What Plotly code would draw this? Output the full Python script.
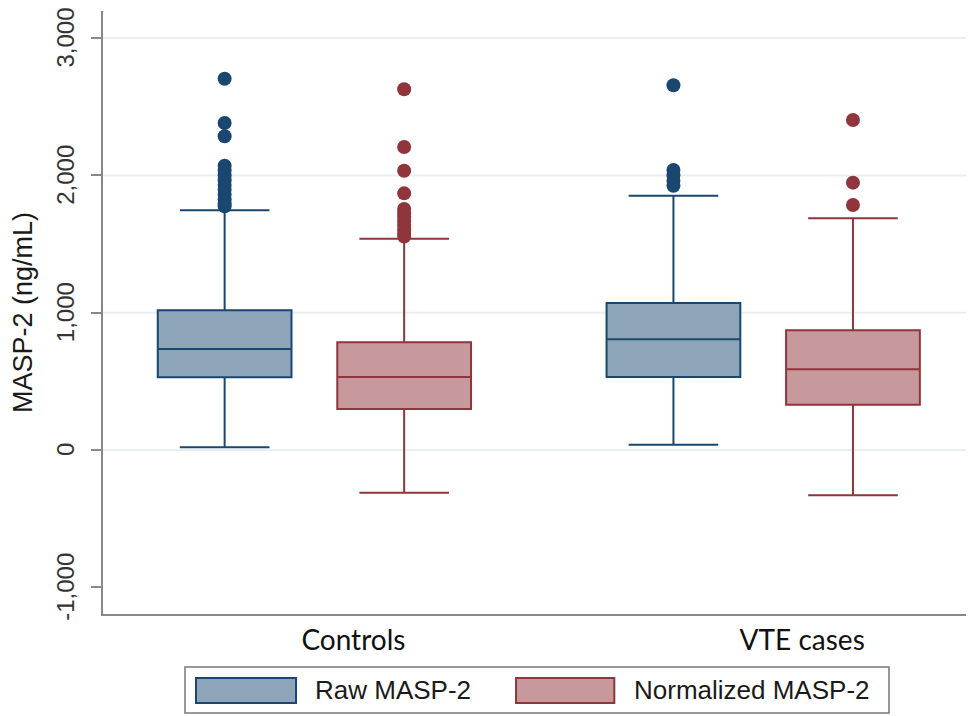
import plotly.graph_objects as go

# ---------------- data ----------------
categories = ["Controls", "VTE cases"]
series_names = ["Raw MASP-2", "Normalized MASP-2"]

raw_lowerfence = [20, 39]
raw_q1 = [530, 532]
raw_median = [735, 806]
raw_q3 = [1017, 1071]
raw_upperfence = [1746, 1852]
raw_outliers_controls = [2704, 2381, 2285, 2070, 2035, 2000, 1965, 1930, 1895, 1860, 1825, 1795, 1775]
raw_outliers_vte = [2656, 2040, 2000, 1960, 1925]

norm_lowerfence = [-311, -330]
norm_q1 = [299, 330]
norm_median = [532, 588]
norm_q3 = [784, 872]
norm_upperfence = [1539, 1688]
norm_outliers_controls = [2627, 2207, 2034, 1869, 1755, 1725, 1695, 1665, 1635, 1605, 1580, 1555]
norm_outliers_vte = [2403, 1947, 1784]

y_tickvals = [-1000, 0, 1000, 2000, 3000]
y_ticktext = ["-1,000", "0", "1,000", "2,000", "3,000"]
gridline_values = [0, 1000, 2000, 3000]

# ---------------- styles ----------------
RAW_LINE = "#1a476f"
RAW_FILL = "#8ea4b8"
NORM_LINE = "#90353b"
NORM_FILL = "#c8999c"
AXIS_COLOR = "#888888"
GRID_COLOR = "#e8eff2"
ARIAL = "Liberation Sans, Arial, sans-serif"
CAT_FONT = "Lato, Open Sans, sans-serif"

fig = go.Figure()

series = [
    (series_names[0], "raw", raw_q1, raw_median, raw_q3, raw_lowerfence, raw_upperfence,
     raw_outliers_controls, raw_outliers_vte, RAW_LINE, RAW_FILL),
    (series_names[1], "norm", norm_q1, norm_median, norm_q3, norm_lowerfence, norm_upperfence,
     norm_outliers_controls, norm_outliers_vte, NORM_LINE, NORM_FILL),
]

for name, grp, q1, med, q3, lf, uf, out_c, out_v, lc, fc in series:
    fig.add_trace(go.Box(
        x=categories, q1=q1, median=med, q3=q3, lowerfence=lf, upperfence=uf,
        name=name, offsetgroup=grp, fillcolor=fc,
        line=dict(color=lc, width=2), whiskerwidth=0.67,
        boxpoints=False, showlegend=False, hoverinfo="skip",
    ))

for name, grp, q1, med, q3, lf, uf, out_c, out_v, lc, fc in series:
    xs = [categories[0]] * len(out_c) + [categories[1]] * len(out_v)
    ys = out_c + out_v
    fig.add_trace(go.Scatter(
        x=xs, y=ys, mode="markers", name=name, offsetgroup=grp,
        marker=dict(color=lc, size=14, line=dict(width=0)),
        showlegend=False, hoverinfo="skip",
    ))

# light gridlines (no line at -1,000)
shapes = []
for v in gridline_values:
    shapes.append(dict(type="line", xref="paper", yref="y", x0=0, x1=1, y0=v, y1=v,
                       line=dict(color=GRID_COLOR, width=2), layer="below"))

# custom legend (paper coordinates)
LEG_Y0, LEG_Y1 = -0.1642, -0.0879
SW_Y0, SW_Y1 = -0.1476, -0.1061
shapes.append(dict(type="rect", xref="paper", yref="paper", x0=0.0933, x1=0.8942,
                   y0=LEG_Y0, y1=LEG_Y1, line=dict(color="#777777", width=1.5),
                   fillcolor="white"))
shapes.append(dict(type="rect", xref="paper", yref="paper", x0=0.1058, x1=0.2196,
                   y0=SW_Y0, y1=SW_Y1, line=dict(color=RAW_LINE, width=2),
                   fillcolor=RAW_FILL))
shapes.append(dict(type="rect", xref="paper", yref="paper", x0=0.4699, x1=0.5817,
                   y0=SW_Y0, y1=SW_Y1, line=dict(color=NORM_LINE, width=2),
                   fillcolor=NORM_FILL))

annotations = [
    dict(text=series_names[0], xref="paper", yref="paper", x=0.2389, y=-0.1268,
         xanchor="left", yanchor="middle", showarrow=False,
         font=dict(family=ARIAL, size=26, color="#1a1a1a")),
    dict(text=series_names[1], xref="paper", yref="paper", x=0.6018, y=-0.1268,
         xanchor="left", yanchor="middle", showarrow=False,
         font=dict(family=ARIAL, size=26, color="#1a1a1a")),
]

fig.update_layout(
    width=974, height=716,
    margin=dict(l=95, r=0, t=3, b=110, pad=0, autoexpand=False),
    paper_bgcolor="white", plot_bgcolor="white",
    boxmode="group", boxgap=0.2, boxgroupgap=0.255,
    scattermode="group", scattergap=0.2,
    shapes=shapes, annotations=annotations,
    showlegend=False,
    xaxis=dict(
        type="category", categoryorder="array", categoryarray=categories,
        range=[-0.471, 1.4875], automargin=False,
        showline=True, linecolor=AXIS_COLOR, linewidth=2,
        ticks="", showgrid=False, zeroline=False,
        tickfont=dict(family=CAT_FONT, size=28, color="#111111"),
        ticklabelshift=39,
    ),
    yaxis=dict(
        range=[-1194, 3197], automargin=False,
        tickvals=y_tickvals, ticktext=y_ticktext,
        ticks="outside", ticklen=10, tickwidth=2, tickcolor=AXIS_COLOR,
        showline=True, linecolor=AXIS_COLOR, linewidth=2,
        showgrid=False, zeroline=False,
        tickangle=-90, ticklabelstandoff=7, ticklabeloverflow="allow",
        ticklabelshift=3,
        tickfont=dict(family=ARIAL, size=24, color="#333333"),
        title=dict(text="MASP-2 (ng/mL)", font=dict(family=ARIAL, size=27, color="#1a1a1a"),
                   standoff=22),
    ),
)

fig.write_html("out.html")
